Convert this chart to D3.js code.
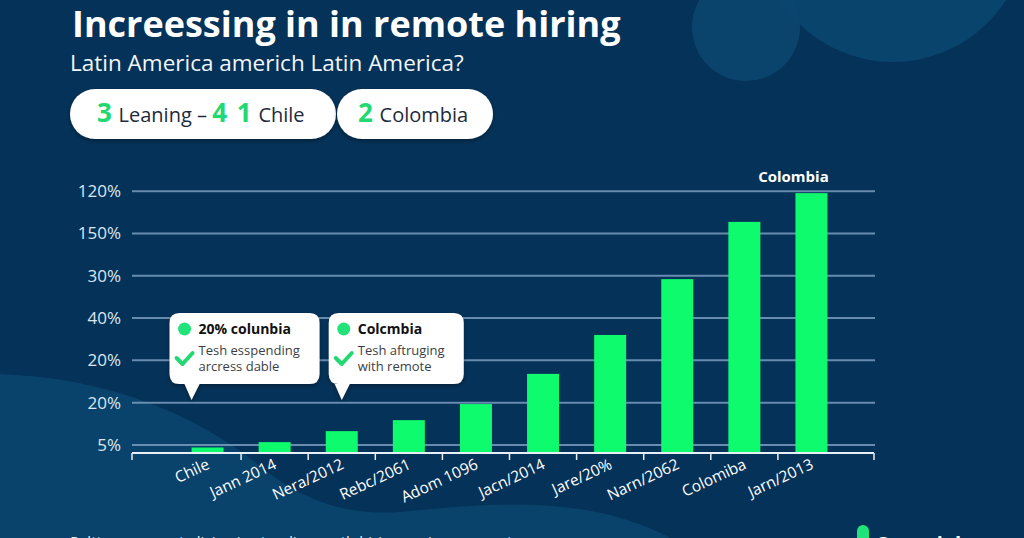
<!DOCTYPE html>
<html><head><meta charset="utf-8">
<script src="https://cdn.jsdelivr.net/npm/d3@7"></script>
<style>
html,body{margin:0;padding:0;background:#053258;overflow:hidden}
svg{display:block}
</style></head>
<body>
<svg id="chart" width="1024" height="538"></svg>
<script>
const categories = ['Chile','Jann 2014','Nera/2012','Rebc/2061','Adom 1096','Jacn/2014','Jare/20%','Narn/2062','Colomiba','Jarn/2013'];
const values = [1.6, 3.5, 7.4, 11.3, 17, 27.7, 41.5, 61.3, 81.6, 91.8];
const tickValues = [2.5, 17.5, 32.5, 47.5, 62.5, 77.5, 92.5];
const tickLabels = ['5%','20%','20%','40%','30%','150%','120%'];
const title = 'Increessing in in remote hiring';
const subtitle = 'Latin America americh Latin America?';
const topBarLabel = 'Colombia';
const calloutCats = ['Chile','Nera/2012'];
const calloutHeads = ['20% colunbia','Colcmbia'];
const calloutLines = [['Tesh esspending','arcress dable'],['Tesh aftruging','with remote']];
const footnote = 'Paltt your remote living in standing aerth hiring eusiness recent';
const legendLabel = 'Seeanial';

const svg = d3.select('#chart');
const W = 1024, H = 538;
const FONT = "'Open Sans', 'Noto Sans', sans-serif";

// background
svg.append('rect').attr('width',W).attr('height',H).attr('fill','#053258');
svg.append('path')
  .attr('d','M0,374 C110,378 195,415 255,462 C300,500 345,516 400,512 C470,505 540,498 610,515 C640,523 660,532 670,538 L0,538 Z')
  .attr('fill','#0a4670').attr('opacity',0.8);
svg.append('circle').attr('cx',893).attr('cy',-72).attr('r',134).attr('fill','#0a4670').attr('opacity',0.9);
svg.append('circle').attr('cx',746).attr('cy',27).attr('r',54).attr('fill','#0b466f').attr('opacity',0.9);

// title
svg.append('text').attr('x',72).attr('y',37).text(title)
  .attr('font-family',FONT).attr('font-weight',700).attr('font-size',36).attr('fill','#ffffff');
svg.append('text').attr('x',70).attr('y',71).text(subtitle)
  .attr('font-family',FONT).attr('font-size',22.5).attr('fill','#f2f6fa');

// pills
const defs = svg.append('defs');
const f = defs.append('filter').attr('id','sh').attr('x','-20%').attr('y','-30%').attr('width','140%').attr('height','160%');
f.append('feDropShadow').attr('dx',0).attr('dy',2).attr('stdDeviation',2).attr('flood-color','#000').attr('flood-opacity',0.35);

const pills = [
  {x:70, w:266, tx:97, parts:[['3',true],[' Leaning – ',false],['4 1',true],[' Chile',false]]},
  {x:337, w:156, tx:358, parts:[['2',true],[' Colombia',false]]}
];
pills.forEach(p=>{
  svg.append('rect').attr('x',p.x).attr('y',89).attr('width',p.w).attr('height',50).attr('rx',25)
    .attr('fill','#ffffff').attr('filter','url(#sh)');
  const t = svg.append('text').attr('x',p.tx).attr('y',122).attr('font-family',FONT).attr('xml:space','preserve');
  p.parts.forEach(([s,g])=>{
    t.append('tspan').text(s).attr('font-weight',g?700:400).attr('font-size',g?26:20)
      .attr('letter-spacing',g?1.5:0)
      .attr('fill',g?'#22d873':'#1d2b3a');
  });
});

// scales
const x = d3.scaleBand().domain(categories).range([174,845]).padding(0);
const y = d3.scaleLinear().domain([0,100]).range([452,170]);
const barW = 32;

// gridlines
const g = svg.append('g');
g.selectAll('line.grid').data(tickValues).join('line')
  .attr('x1',132).attr('x2',875).attr('y1',d=>y(d)).attr('y2',d=>y(d))
  .attr('stroke','#7a9cc0').attr('stroke-width',2).attr('opacity',0.85);
g.selectAll('text.yl').data(tickValues).join('text')
  .attr('x',121).attr('y',d=>y(d)+6).attr('text-anchor','end')
  .attr('font-family',FONT).attr('font-size',17).attr('fill','#dbe8f3')
  .text((d,i)=>tickLabels[i]);

// bars
svg.selectAll('rect.bar').data(categories).join('rect')
  .attr('x',d=>x(d)+(x.bandwidth()-barW)/2).attr('width',barW)
  .attr('y',(d,i)=>y(values[i])).attr('height',(d,i)=>y(0)-y(values[i]))
  .attr('fill','#0dfb6c');

// x axis
const axY = 453;
svg.append('line').attr('x1',132).attr('x2',874).attr('y1',axY).attr('y2',axY)
  .attr('stroke','#e6eef6').attr('stroke-width',2);
const tickXs = [132].concat(categories.slice(1).map(c=>x(c))).concat([874]);
svg.selectAll('line.xt').data(tickXs).join('line')
  .attr('x1',d=>d).attr('x2',d=>d).attr('y1',axY).attr('y2',axY+7)
  .attr('stroke','#e6eef6').attr('stroke-width',1.5);
svg.selectAll('text.xl').data(categories).join('text')
  .attr('transform',d=>`translate(${x(d)+x.bandwidth()/2+3},${axY+15}) rotate(-25)`)
  .attr('text-anchor','end').attr('font-family',FONT).attr('font-size',15.5).attr('fill','#ffffff')
  .text(d=>d);

// top bar label
const last = categories[categories.length-1];
svg.append('text').attr('x',x(last)+x.bandwidth()/2-18).attr('y',y(values[values.length-1])-11)
  .attr('text-anchor','middle').attr('font-family',FONT).attr('font-weight',700).attr('font-size',15)
  .attr('fill','#ffffff').text(topBarLabel);

// callouts
const boxW = [150,135];
const tipShift = [-16, 0];
const tipLeft = [22, 13];
calloutCats.forEach((cat,i)=>{
  const cx = x(cat)+x.bandwidth()/2 + tipShift[i];
  const bx = cx - tipLeft[i], by = 313, bw = boxW[i], bh = 71, r = 10, tipY = 400;
  const path = `M${bx+r},${by} H${bx+bw-r} Q${bx+bw},${by} ${bx+bw},${by+r} V${by+bh-r} Q${bx+bw},${by+bh} ${bx+bw-r},${by+bh}
    H${cx+8} L${cx},${tipY} L${cx-7},${by+bh} H${bx+r} Q${bx},${by+bh} ${bx},${by+bh-r} V${by+r} Q${bx},${by} ${bx+r},${by} Z`;
  svg.append('path').attr('d',path).attr('fill','#ffffff').attr('filter','url(#sh)');
  svg.append('circle').attr('cx',bx+15).attr('cy',by+16).attr('r',6.5).attr('fill','#22e27a');
  svg.append('text').attr('x',bx+29).attr('y',by+21).attr('font-family',FONT).attr('font-weight',700)
    .attr('font-size',14).attr('fill','#111').text(calloutHeads[i]);
  svg.append('path').attr('d',`M${bx+7},${by+45} L${bx+13},${by+51} L${bx+23},${by+40}`)
    .attr('fill','none').attr('stroke','#22d873').attr('stroke-width',4).attr('stroke-linecap','round').attr('stroke-linejoin','round');
  calloutLines[i].forEach((l,j)=>{
    svg.append('text').attr('x',bx+29).attr('y',by+42+j*15.5).attr('font-family',FONT)
      .attr('font-size',13).attr('fill','#3a3f45').text(l);
  });
});

// footnote & legend (cut off at bottom)
svg.append('text').attr('x',70).attr('y',547).attr('font-family',FONT).attr('font-size',15)
  .attr('fill','#e6eef6').text(footnote);
svg.append('rect').attr('x',857).attr('y',525).attr('width',12).attr('height',20).attr('rx',6).attr('fill','#22e27a');
svg.append('text').attr('x',877).attr('y',551).attr('font-family',FONT).attr('font-weight',700).attr('font-size',20)
  .attr('fill','#ffffff').text(legendLabel);
</script>
</body></html>
